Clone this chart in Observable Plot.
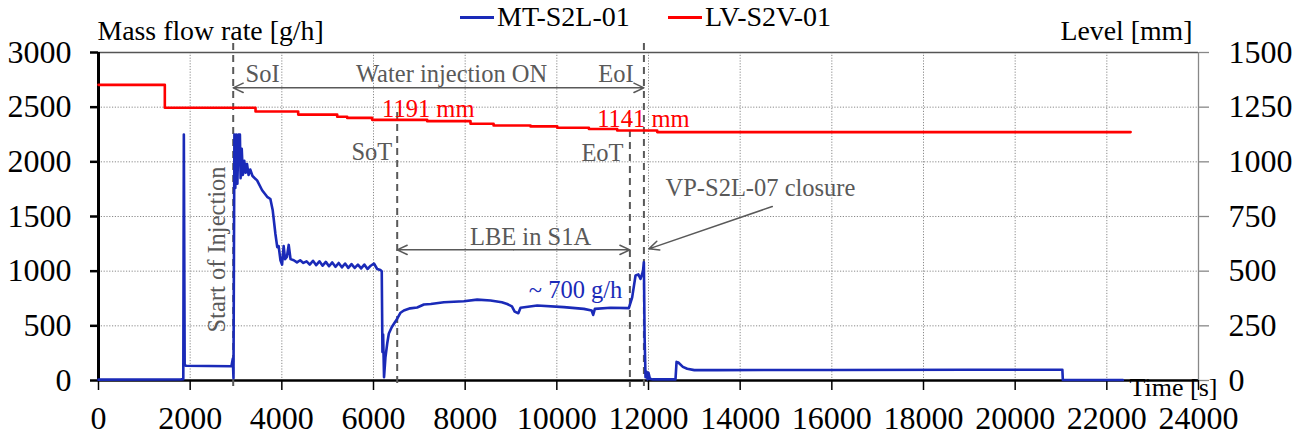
<!DOCTYPE html>
<html><head><meta charset="utf-8">
<script src="https://cdn.jsdelivr.net/npm/d3@7"></script>
<script src="https://cdn.jsdelivr.net/npm/@observablehq/plot@0.6"></script>
<style>
body{margin:0;background:#fff}
#wrap{position:relative;width:1301px;height:437px;font-family:"Liberation Serif","Times New Roman",serif}
#legend{position:absolute;left:0;top:0;width:1301px;height:40px;font-size:28px;color:#000}
.sw{position:absolute;height:3px;top:16px}
.lt{position:absolute;top:0px;line-height:34px;white-space:nowrap}
</style>
</head><body>
<div id="wrap"><div id="chart"></div>
<div id="legend">
 <div class="sw" style="left:460px;width:34px;background:#1a2ab8"></div><div class="lt" style="left:497px">MT-S2L-01</div>
 <div class="sw" style="left:668px;width:34px;background:#ff0000"></div><div class="lt" style="left:705px">LV-S2V-01</div>
</div></div>
<script>
// ---- data ----
const xTicks = [0,2000,4000,6000,8000,10000,12000,14000,16000,18000,20000,22000,24000];
const yTicks = [0,500,1000,1500,2000,2500,3000];
const levelTicks = [0,250,500,750,1000,1250,1500];

// MT-S2L-01 mass flow rate [g/h]
const flowT = [0,1800,1850,1862,1880,1900,2900,2930,2945,2965,2985,3005,3030,3055,3085,3100,3125,3150,3180,3210,3240,3275,3310,3360,3460,3570,3680,3750,3800,3860,3900,3930,3970,4005,4040,4070,4110,4150,4190,4260,
 4330,4400,4470,4540,4610,4680,4750,4820,4890,4960,5030,5100,5170,5240,5310,5380,5450,5520,5590,5660,5730,5800,5870,5940,6010,6080,6150,6180,6195,6210,6230,6260,6300,6335,6400,6517,6590,6662,6800,6953,7099,7250,7535,7971,8262,8553,8800,8917,9020,9080,9160,9208,9572,10153,10589,10760,10793,10830,11172,11571,11644,11717,11780,11826,11880,11899,11915,11935,11960,11980,12000,12030,12100,12589,12612,12650,12750,12844,13000,13500,16000,19000,21030,21040,22350];
const flowV = [8,10,12,2250,150,135,130,200,20,2250,1760,2250,1800,2250,2250,1850,2120,1880,2010,1900,1980,1880,1930,1870,1830,1740,1680,1660,1560,1340,1220,1230,1100,1060,1230,1110,1130,1240,1110,1100,
 1080,1100,1075,1090,1060,1095,1055,1090,1050,1085,1045,1080,1040,1075,1035,1070,1030,1065,1030,1060,1025,1060,1020,1050,1070,1020,1010,1000,260,420,30,210,340,430,490,565,620,640,660,668,695,700,716,725,740,732,715,700,678,630,615,665,686,671,655,640,600,655,665,662,760,960,970,930,1000,1082,400,30,80,10,70,15,10,10,170,165,125,107,95,95,96,98,98,5,5];

// LV-S2V-01 level [mm]
const levelT = [0,1447,3426,4357,5208,5426,5971,7171,8117,8620,9426,10009,10700,11317,12190,22519];
const levelV = [1352,1247,1230,1216,1206,1201,1192,1186,1174,1166,1162,1156,1150,1143,1136,1136];

// events [s]
const eventNames = ["SoI","SoT","EoT","EoI"];
const eventTimes = [2939,6517,11594,11900];
const eventTop = [3082,2451,2396,3082];

// ---- chart ----
const K = 2; // level -> left scale
const gray = "#595959";
const blue = "#1a2ab8";
const fi = flowT.map((d,i)=>i), li = levelT.map((d,i)=>i), ei = eventTimes.map((d,i)=>i);
const ann = {fill: gray, fontSize: 24.5, lineAnchor: "middle"};

const chart = Plot.plot({
  width: 1301, height: 437,
  marginLeft: 98, marginRight: 103, marginTop: 52, marginBottom: 57,
  style: {fontFamily: '"Liberation Serif","Times New Roman",serif', background: "white", overflow: "visible"},
  x: {domain: [0, 24000]},
  y: {domain: [0, 3000]},
  marks: [
    Plot.gridX(xTicks.slice(1, -1), {stroke: "#8a8a8a", strokeOpacity: 1, strokeDasharray: "1.2,1.6"}),
    Plot.gridY(yTicks.slice(1, -1), {stroke: "#8a8a8a", strokeOpacity: 1, strokeDasharray: "1.2,1.6"}),
    Plot.ruleY([3000], {x1: 0, x2: 24000, stroke: "#555", strokeWidth: 1.3}),
    Plot.ruleX([24000], {y1: 0, y2: 3000, stroke: "#888", strokeWidth: 1.3}),
    Plot.axisX({ticks: xTicks, tickFormat: d => String(d), tickSize: 10, tickPadding: 16, fontSize: 32, stroke: "#000", strokeWidth: 1.5}),
    Plot.axisY({ticks: yTicks, tickFormat: d => String(d), tickSize: 8, tickPadding: 19, fontSize: 32, stroke: "#000", strokeWidth: 2.5}),
    Plot.axisY({anchor: "right", ticks: levelTicks.map(d => d * K), tickFormat: d => String(d / K), tickSize: 10, tickPadding: 20, fontSize: 32, stroke: "#888", strokeWidth: 1.3}),
    Plot.ruleY([0], {x1: 0, x2: 24000, stroke: "#000", strokeWidth: 2.5}),
    Plot.ruleX([0], {y1: 0, y2: 3000, stroke: "#000", strokeWidth: 3}),
    // event dashed lines
    Plot.ruleX(ei, {x: i => eventTimes[i], y1: i => eventTop[i], y2: -64, stroke: gray, strokeWidth: 2, strokeDasharray: "7,5"}),
    // series
    Plot.line(li, {x: i => levelT[i], y: i => levelV[i] * K, curve: "step-after", stroke: "#ff0000", strokeWidth: 2.6}),
    Plot.line(fi, {x: i => flowT[i], y: i => flowV[i], stroke: blue, strokeWidth: 2.6}),
    // arrows
    Plot.arrow([0], {x1: 7420, y1: 2677, x2: eventTimes[0], y2: 2677, stroke: gray, strokeWidth: 1.5, headLength: 11, headAngle: 50}),
    Plot.arrow([0], {x1: 7420, y1: 2677, x2: eventTimes[3], y2: 2677, stroke: gray, strokeWidth: 1.5, headLength: 11, headAngle: 50}),
    Plot.arrow([0], {x1: 9055, y1: 1195, x2: eventTimes[1], y2: 1195, stroke: gray, strokeWidth: 1.5, headLength: 11, headAngle: 50}),
    Plot.arrow([0], {x1: 9055, y1: 1195, x2: eventTimes[2], y2: 1195, stroke: gray, strokeWidth: 1.5, headLength: 11, headAngle: 50}),
    Plot.arrow([0], {x1: 14700, y1: 1591, x2: 12008, y2: 1204, stroke: gray, strokeWidth: 1.5, headLength: 11, headAngle: 50}),
    // annotation texts
    Plot.text(["SoI"], {x: 3208, y: 2799, textAnchor: "start", ...ann}),
    Plot.text(["Water injection ON"], {x: 7703, y: 2799, textAnchor: "middle", ...ann}),
    Plot.text(["EoI"], {x: 11674, y: 2799, textAnchor: "end", ...ann}),
    Plot.text(["SoT"], {x: 6409, y: 2085, textAnchor: "end", ...ann}),
    Plot.text(["EoT"], {x: 11456, y: 2081, textAnchor: "end", ...ann}),
    Plot.text(["LBE in S1A"], {x: 9426, y: 1308, textAnchor: "middle", ...ann}),
    Plot.text(["VP-S2L-07 closure"], {x: 12372, y: 1762, textAnchor: "start", ...ann}),
    Plot.text(["Start of Injection"], {x: 2597, y: 1198, rotate: -90, textAnchor: "middle", ...ann}),
    Plot.text(["~ 700 g/h"], {x: 10408, y: 827, textAnchor: "middle", fill: blue, fontSize: 24.5, lineAnchor: "middle"}),
    Plot.text(["1191 mm"], {x: 6188, y: 2479, textAnchor: "start", fill: "#ff0000", fontSize: 24.5, lineAnchor: "middle"}),
    Plot.text(["1141 mm"], {x: 10880, y: 2387, textAnchor: "start", fill: "#ff0000", fontSize: 24.5, lineAnchor: "middle"}),
    // axis titles
    Plot.text(["Mass flow rate [g/h]"], {frameAnchor: "top-left", dx: -1, dy: -21.6, textAnchor: "start", lineAnchor: "middle", fontSize: 27.8, fill: "#000"}),
    Plot.text(["Level [mm]"], {frameAnchor: "top-right", dx: -6, dy: -21.6, textAnchor: "end", lineAnchor: "middle", fontSize: 27.8, fill: "#000"}),
    Plot.text(["Time [s]"], {frameAnchor: "bottom-right", dx: 19, dy: 7.5, textAnchor: "end", lineAnchor: "middle", fontSize: 26, fill: "#000"})
  ]
});
document.getElementById("chart").appendChild(chart);
</script>
</body></html>
